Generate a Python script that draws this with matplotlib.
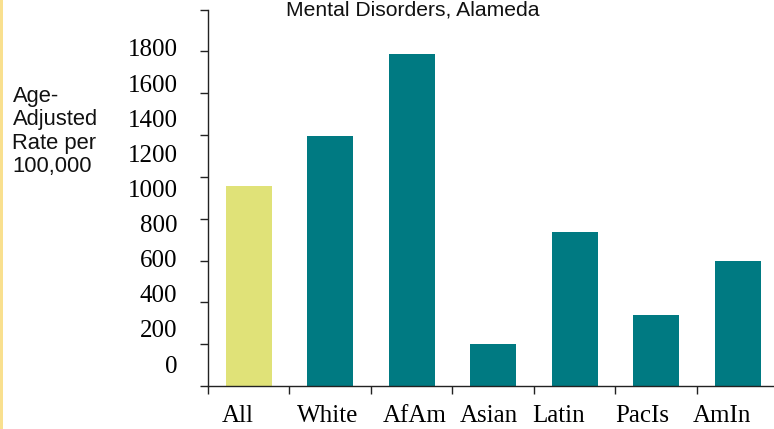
import matplotlib
matplotlib.use("Agg")
import matplotlib.pyplot as plt
from matplotlib.patches import Rectangle

categories = ["All", "White", "AfAm", "Asian", "Latin", "PacIs", "AmIn"]
values = [957, 1196, 1589, 201, 737, 340, 598]
bar_colors = ["#E0E278", "#007A82", "#007A82", "#007A82", "#007A82", "#007A82", "#007A82"]
yticks = [0, 200, 400, 600, 800, 1000, 1200, 1400, 1600, 1800]
ytick_labels = [str(v) for v in yticks]
title = "Mental Disorders, Alameda"
ylabel = "Age-\nAdjusted\nRate per\n100,000"

# horizontal offsets of the category labels relative to their bars (layout)
label_shift = [-0.138, -0.028, 0.04, -0.052, -0.197, -0.175, -0.193]

W, H = 774, 429
fig = plt.figure(figsize=(W / 100, H / 100), dpi=100)

# left decorative strip
fig.patches.append(Rectangle((0, 0), 3 / W, 1, transform=fig.transFigure,
                             facecolor="#F9E08F", edgecolor="none"))

left = 208 / W
bottom = 1 - 386 / H
top = 1 - 9.5 / H
ax = fig.add_axes([left, bottom, 1 - left, top - bottom])

x = list(range(len(categories)))
ax.bar(x, values, width=0.565, color=bar_colors)
ax.set_xlim(-0.5, 6.445)
ax.set_ylim(0, 1800)

for s in ["top", "right"]:
    ax.spines[s].set_visible(False)
for s in ["left", "bottom"]:
    ax.spines[s].set_color("#222222")
    ax.spines[s].set_linewidth(1.0)

ax.set_xticks([i - 0.5 for i in range(len(categories))])
ax.set_xticklabels([])
ax.set_xticks([i + d for i, d in zip(x, label_shift)], minor=True)
ax.set_xticklabels(categories, minor=True, family="Liberation Serif", fontsize=18)
ax.tick_params(axis="x", which="major", direction="out", length=6, width=1, color="#222222")
ax.tick_params(axis="x", which="minor", length=0, pad=14)

ax.set_yticks(yticks)
ax.set_yticklabels([])
ax.tick_params(axis="y", direction="out", length=6, width=1, color="#222222")

# tick labels drawn on a twin scale (they are offset from the tick marks in the original)
ax2 = ax.twinx()
ax2.set_ylim(-125, 2018.6)
ax2.yaxis.set_ticks_position("left")
ax2.set_yticks(yticks)
ax2.set_yticklabels(ytick_labels, family="Liberation Serif", fontsize=18)
ax2.tick_params(axis="y", length=0, pad=22)
for s in ax2.spines.values():
    s.set_visible(False)
ax2.patch.set_visible(False)

fig.text(413 / W, 1 - 1 / H, title, ha="center", va="top",
         family="Liberation Sans", fontsize=15.2, color="#111111")
fig.text(12.5 / W, 1 - 86 / H, ylabel, ha="left", va="top",
         family="Liberation Sans", fontsize=15.8, linespacing=1.15, color="#111111")

fig.savefig("out.png", dpi=100)
